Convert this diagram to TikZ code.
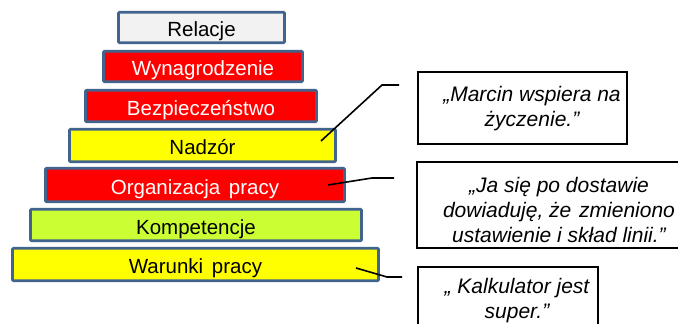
\documentclass[tikz,border=0pt]{standalone}
\usepackage{fontspec}
\setmainfont{Liberation Sans}
\definecolor{edgeblue}{HTML}{41648F}
\definecolor{fillred}{HTML}{FF0000}
\definecolor{fillyellow}{HTML}{FFFF00}
\definecolor{fillgreen}{HTML}{CCFF33}
\definecolor{fillgrey}{HTML}{F2F2F2}
\tikzset{
  level/.style={draw=edgeblue, line width=2.6pt, rounded corners=1pt, inner sep=0pt,
    text height=18pt, text depth=0pt,
    font=\fontsize{20.5}{24}\selectfont},
  quotebox/.style={draw=black, line width=1.8pt, inner sep=0pt},
  quotetext/.style={font=\fontsize{21}{25}\selectfont\itshape, align=center, inner sep=0pt},
  leader/.style={draw=black, line width=1.6pt}
}
\begin{document}
\begin{tikzpicture}[x=1pt,y=-1pt]
\clip (0,0) rectangle (678,324);
\fill[white] (0,0) rectangle (678,324);
% pyramid
\node[level, fill=fillgrey, minimum width=166pt, minimum height=30.5pt] (rel) at (201.5,27.5) {Relacje};
\node[level, fill=fillred, text=white, minimum width=199pt, minimum height=30.5pt] (wyn) at (203,66.5) {Wynagrodzenie};
\node[level, fill=fillred, text=white, minimum width=231pt, minimum height=31.5pt] (bez) at (201,106) {Bezpiecze\'nstwo};
\node[level, fill=fillyellow, minimum width=266pt, minimum height=32.5pt] (nad) at (202.5,145.5) {Nadz\'or};
\node[level, fill=fillred, text=white, minimum width=299pt, minimum height=33.5pt] (org) at (195,185) {Organizacja\hspace{3pt} pracy};
\node[level, fill=fillgreen, minimum width=331pt, minimum height=31.5pt] (kom) at (196,225) {Kompetencje};
\node[level, fill=fillyellow, minimum width=366pt, minimum height=32.5pt] (war) at (195.5,264.5) {Warunki\hspace{3pt} pracy};
% quote boxes
\node[quotebox, minimum width=209pt, minimum height=72pt] (q1) at (522.5,108) {};
\node[quotetext] (q1t) at (532,108.5) {„Marcin wspiera na\\ życzenie.”};
\node[quotebox, minimum width=290pt, minimum height=86pt] (q2) at (562,205) {};
\node[quotetext] (q2t) at (559,210) {„Ja się po dostawie\\ dowiaduję, że\hspace{2pt} zmieniono\\ ustawienie i skład linii.”};
\node[quotebox, minimum width=180pt, minimum height=80pt] (q3) at (508,307) {};
\node[quotetext] (q3t) at (517,300.5) {„ Kalkulator jest\\ super.”};
% leaders
\coordinate (a1) at (321,141);
\coordinate (b1) at (382,85);
\coordinate (c1) at (399,85);
\coordinate (a2) at (328,185);
\coordinate (b2) at (372,178);
\coordinate (c2) at (394,178);
\coordinate (a3) at (356,268);
\coordinate (b3) at (387,277);
\coordinate (c3) at (402,277);
\draw[leader] (a1) -- (b1) -- (c1);
\draw[leader] (a2) -- (b2) -- (c2);
\draw[leader] (a3) -- (b3) -- (c3);
\end{tikzpicture}
\end{document}
